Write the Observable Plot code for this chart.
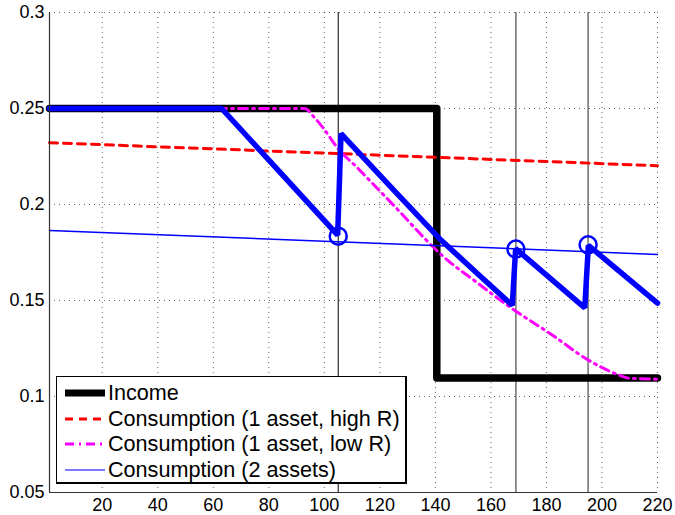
<!DOCTYPE html>
<html>
<head>
<meta charset="utf-8">
<script src="https://cdn.jsdelivr.net/npm/d3@7"></script>
<script src="https://cdn.jsdelivr.net/npm/@observablehq/plot@0.6"></script>
<style>
  body { margin: 0; background: #fff; }
  #wrap { position: relative; width: 675px; height: 515px; font-family: "Liberation Sans", Arial, sans-serif; }
  #legend { position: absolute; left: 56px; top: 376px; width: 351px; height: 108px; box-sizing: border-box;
            border: 1.5px solid #000; border-right-width: 2px; border-bottom-width: 2px; background: #fff; }
  .row { position: absolute; left: 0; height: 26px; width: 100%; }
  .row svg { position: absolute; left: 7px; top: 0; }
  .row span { position: absolute; left: 51px; top: 0; font-size: 21.6px; line-height: 26px; color: #000; white-space: nowrap; }
</style>
</head>
<body>
<div id="wrap"><div id="chart"></div><div id="legend"></div></div>
<script>
// ---- data ----
const xTicks = [20, 40, 60, 80, 100, 120, 140, 160, 180, 200, 220];
const yTicks = [0.05, 0.1, 0.15, 0.2, 0.25, 0.3];
const yTickLabels = ["0.05", "0.1", "0.15", "0.2", "0.25", "0.3"];

const incomeX = [1, 140.5, 140.5, 220];
const incomeY = [0.25, 0.25, 0.1097, 0.1097];

const highRX = [1, 220];
const highRY = [0.2322, 0.2202];

const lowRX = [1, 93, 96, 100, 104.7, 112, 119, 127, 136, 143, 154, 167.7, 181.5, 195.4, 205.6, 210, 220];
const lowRY = [0.25, 0.25, 0.246, 0.239, 0.2295, 0.219, 0.2085, 0.1965, 0.1825, 0.1727, 0.1604, 0.1457, 0.1326, 0.1187, 0.1115, 0.1095, 0.109];

const twoAssetX = [1, 220];
const twoAssetY = [0.1865, 0.174];

const pathX = [1, 63, 104.8, 106, 125, 142, 155, 167.7, 168.9, 193.8, 195.1, 220];
const pathY = [0.25, 0.25, 0.184, 0.2369, 0.2075, 0.1815, 0.1642, 0.1475, 0.177, 0.1462, 0.1787, 0.1486];

const eventX = [105, 169, 195];
const circleX = [105, 169, 195];
const circleY = [0.1835, 0.1768, 0.179];

const seriesNames = ["Income", "Consumption (1 asset, high R)", "Consumption (1 asset, low R)", "Consumption (2 assets)"];

// ---- helpers ----
const pts = (xs, ys) => xs.map((x, i) => ({x, y: ys[i]}));

const chart = Plot.plot({
  width: 675,
  height: 515,
  marginLeft: 49,
  marginRight: 18,
  marginTop: 12,
  marginBottom: 23,
  x: {domain: [1, 220]},
  y: {domain: [0.05, 0.3]},
  style: {fontFamily: '"Liberation Sans", Arial, sans-serif', fontSize: "18px", color: "#000", background: "#fff"},
  marks: [
    Plot.gridX(xTicks, {stroke: "#000", strokeOpacity: 0.6, strokeDasharray: "1,4"}),
    Plot.gridY(yTicks, {stroke: "#000", strokeOpacity: 0.6, strokeDasharray: "1,4"}),
    Plot.ruleX(eventX, {stroke: (d, i) => i === 0 ? "#000" : "#777", strokeWidth: (d, i) => i === 0 ? 1 : 1.6}),
    Plot.line(pts(incomeX, incomeY), {x: "x", y: "y", stroke: "#000", strokeWidth: 7.5, strokeLinejoin: "round"}),
    Plot.line(pts(highRX, highRY), {x: "x", y: "y", stroke: "#ff0000", strokeWidth: 3, strokeDasharray: "8,6"}),
    Plot.line(pts(lowRX, lowRY), {x: "x", y: "y", stroke: "#ff00ff", strokeWidth: 3, strokeDasharray: "9,5,2,5", curve: "monotone-x"}),
    Plot.line(pts(twoAssetX, twoAssetY), {x: "x", y: "y", stroke: "#0000ff", strokeWidth: 1.5}),
    Plot.line(pts(pathX, pathY), {x: "x", y: "y", stroke: "#0000ff", strokeWidth: 5.5, strokeLinejoin: "miter"}),
    Plot.dot(pts(circleX, circleY), {x: "x", y: "y", r: 8.5, stroke: "#0000ff", strokeWidth: 2.5, fill: "none"}),
    Plot.ruleX([1], {stroke: "#333", strokeWidth: 1.2}),
    Plot.ruleY([0.05], {stroke: "#333", strokeWidth: 1.2}),
    Plot.axisX(xTicks, {tickSize: 0, tickPadding: 6, label: null, fontSize: 18}),
    Plot.axisY(yTicks, {tickSize: 0, tickPadding: 5, label: null, fontSize: 18,
      tickFormat: d => yTickLabels[yTicks.indexOf(d)]})
  ]
});
document.getElementById("chart").appendChild(chart);

// ---- legend ----
const legendStyles = [
  {stroke: "#000", width: 7, dash: null},
  {stroke: "#ff0000", width: 3, dash: "8,6"},
  {stroke: "#ff00ff", width: 3, dash: "9,5,2,5"},
  {stroke: "#5050ff", width: 1.5, dash: null}
];
const legend = document.getElementById("legend");
seriesNames.forEach((name, i) => {
  const row = document.createElement("div");
  row.className = "row";
  row.style.top = (3 + i * 25.7) + "px";
  const s = legendStyles[i];
  row.innerHTML = `<svg width="42" height="26"><line x1="1" x2="41" y1="13" y2="13" stroke="${s.stroke}" stroke-width="${s.width}" ${s.dash ? `stroke-dasharray="${s.dash}"` : ""}/></svg><span>${name}</span>`;
  legend.appendChild(row);
});
</script>
</body>
</html>
